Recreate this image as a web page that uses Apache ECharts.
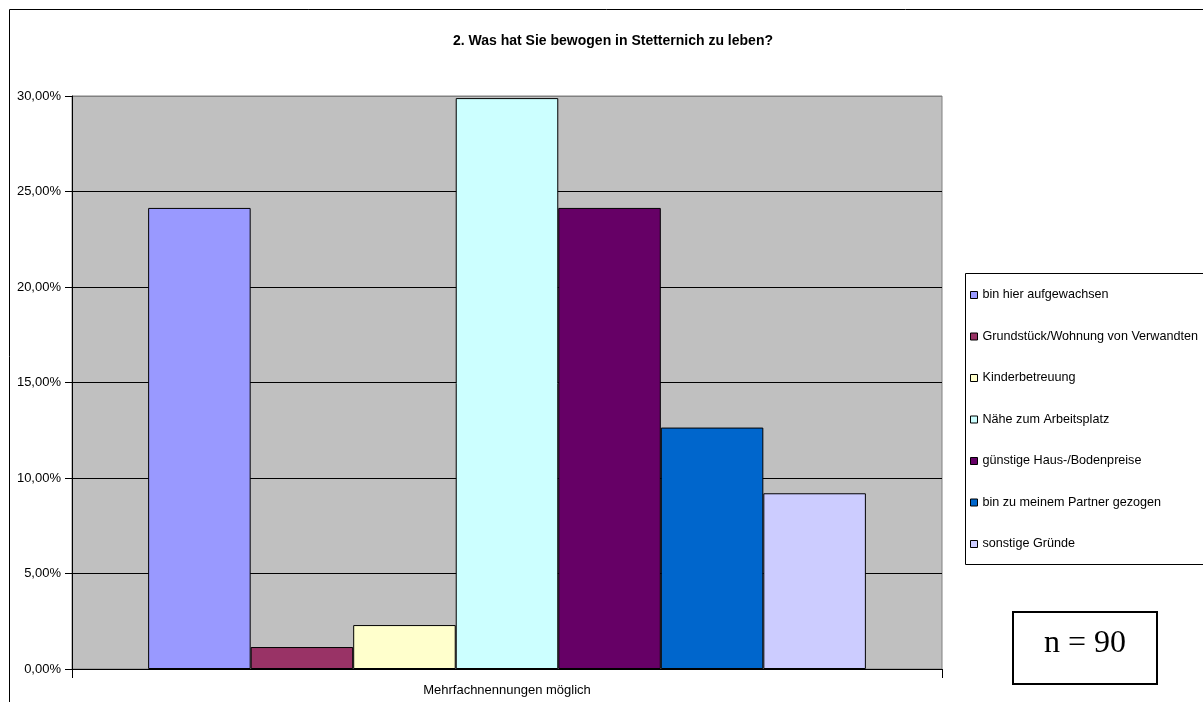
<!DOCTYPE html>
<html><head><meta charset="utf-8">
<script src="https://cdn.jsdelivr.net/npm/echarts@6/dist/echarts.min.js"></script>
<style>html,body{margin:0;padding:0;background:#fff}#c{width:1203px;height:702px}</style>
</head><body><div id="c"></div>
<script>
const categories = ['Mehrfachnennungen möglich'];
const seriesNames = ['bin hier aufgewachsen','Grundstück/Wohnung von Verwandten','Kinderbetreuung','Nähe zum Arbeitsplatz','günstige Haus-/Bodenpreise','bin zu meinem Partner gezogen','sonstige Gründe'];
const seriesValues = [24.14, 1.15, 2.30, 29.89, 24.14, 12.64, 9.20];
const seriesColors = ['#9999FF','#993366','#FFFFCC','#CCFFFF','#660066','#0066CC','#CCCCFF'];
const yTicks = [0, 5, 10, 15, 20, 25, 30];
const titleText = '2. Was hat Sie bewogen in Stetternich zu leben?';
const noteText = 'n = 90';

const chart = echarts.init(document.getElementById('c'), null, {renderer:'canvas'});
const font = 'Liberation Sans, Arial, sans-serif';
chart.setOption({
  animation:false,
  title:{text:titleText,left:608,top:29,textAlign:'center',textStyle:{fontFamily:font,fontSize:14,fontWeight:'bold',color:'#000'}},
  grid:{left:72,right:261,top:96,bottom:33,show:true,backgroundColor:'#C0C0C0',borderColor:'#808080',borderWidth:1},
  legend:{orient:'vertical',left:970,top:288.5,padding:0,itemWidth:7,itemHeight:7,itemGap:28.5,icon:'rect',itemTextGap:6,
    textStyle:{fontFamily:font,fontSize:12.6,color:'#000'},
    itemStyle:{borderColor:'#000',borderWidth:1},data:seriesNames},
  xAxis:{type:'category',data:categories,
    axisLine:{lineStyle:{color:'#000',width:1}},
    axisTick:{show:true,length:9,lineStyle:{color:'#000'}},
    axisLabel:{fontFamily:font,fontSize:13,color:'#000',margin:15}},
  yAxis:{type:'value',min:yTicks[0],max:yTicks[yTicks.length-1],interval:5,
    axisLine:{show:true,lineStyle:{color:'#000'}},
    axisTick:{show:true,length:7,lineStyle:{color:'#000'}},
    axisLabel:{fontFamily:font,fontSize:13,color:'#000',margin:11,formatter:v=>v.toFixed(2).replace('.',',')+'%'},
    splitLine:{show:true,lineStyle:{color:['#000','#000','#000','#000','#000','#000','#808080'],width:1}}},
  series: seriesNames.map((n,i)=>({name:n,type:'bar',data:[seriesValues[i]],barGap:'0%',barCategoryGap:'17.5%',
    itemStyle:{color:seriesColors[i],borderColor:'#000',borderWidth:1}})),
  graphic:[
    {type:'rect',shape:{x:9.5,y:9.5,width:1300,height:800},style:{fill:'none',stroke:'#000',lineWidth:1},z:-1},
    {type:'rect',shape:{x:965.5,y:273.5,width:300,height:291},style:{fill:'none',stroke:'#000',lineWidth:1},z:1},
    {type:'rect',shape:{x:1013,y:612,width:144,height:72},style:{fill:'#fff',stroke:'#000',lineWidth:2},z:1},
    {type:'text',x:1085,y:644,style:{text:noteText,fontFamily:'Liberation Serif, Times New Roman, serif',fontSize:32,fill:'#000',textAlign:'center',textVerticalAlign:'middle'},z:2}
  ]
});
</script></body></html>
